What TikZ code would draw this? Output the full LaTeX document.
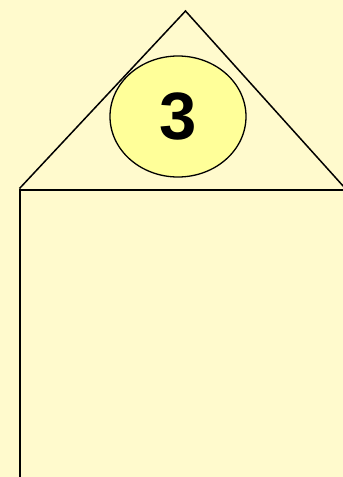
\documentclass[tikz,border=0pt]{standalone}
\usepackage{fontspec}
\setmainfont{Liberation Sans}
\usetikzlibrary{shapes.geometric}
\definecolor{bg}{RGB}{255,250,205}
\definecolor{ell}{RGB}{255,255,153}
\tikzset{outline/.style={draw=black,line width=1.5pt,line join=miter},
  badge/.style={ellipse,draw=black,line width=1.3pt,fill=ell,minimum width=136pt,minimum height=121pt,inner sep=0pt,font=\fontsize{67pt}{67pt}\selectfont\bfseries}}
\begin{document}
\begin{tikzpicture}[x=1pt,y=-1pt]
\fill[bg] (0,0) rectangle (343,477);
\useasboundingbox (0,0) rectangle (343,477);
\coordinate (apex) at (185.5,11);
\coordinate (bl) at (19.5,188.5);
\coordinate (br) at (344,187);
\coordinate (rl) at (19.5,190);
\coordinate (rr) at (345,190);
\coordinate (rb) at (19.5,480);
\draw[outline] (bl) -- (apex) -- (br);
\draw[black,line width=2pt] (rb) -- (rl) -- (rr);
\node[badge] (n3) at (178,116.5) {3};
\end{tikzpicture}
\end{document}
